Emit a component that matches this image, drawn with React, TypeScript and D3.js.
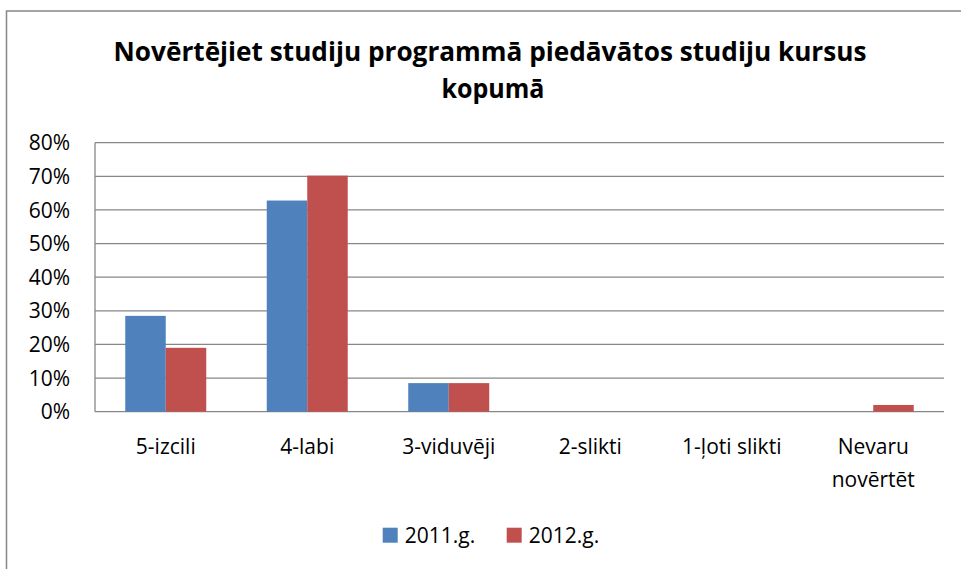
import React from "react";
import * as d3 from "d3";

const categories: string[][] = [
  ["5-izcili"],
  ["4-labi"],
  ["3-viduvēji"],
  ["2-slikti"],
  ["1-ļoti slikti"],
  ["Nevaru", "novērtēt"],
];
const seriesNames = ["2011.g.", "2012.g."];
const values2011 = [28.5, 62.8, 8.5, 0, 0, 0];
const values2012 = [19.0, 70.2, 8.5, 0, 0, 2.0];
const yTicks = [0, 10, 20, 30, 40, 50, 60, 70, 80];
const titleLines = ["Novērtējiet studiju programmā piedāvātos studiju kursus", "kopumā"];

const colors = ["#4F81BD", "#C0504D"];
const W = 961;
const H = 569;
const plot = { left: 95, right: 944, top: 142.7, bottom: 411.7 };
const font = "'Open Sans', 'Liberation Sans', Arial, sans-serif";

export default function App() {
  const keys = categories.map((c) => c.join(" "));
  const x0 = d3.scaleBand<string>().domain(keys).range([plot.left, plot.right]).padding(0);
  const x1 = d3
    .scaleBand<string>()
    .domain(seriesNames)
    .range([0, x0.bandwidth()])
    .paddingInner(0)
    .paddingOuter(0.747);
  const y = d3.scaleLinear().domain([0, 80]).range([plot.bottom, plot.top]);
  const series = [values2011, values2012];

  return (
    <svg
      width={W}
      height={H}
      style={{ position: "absolute", left: 0, top: 0, display: "block", background: "#fff" }}
      fontFamily={font}
    >
      <rect x={0} y={0} width={W} height={H} fill="#fff" />
      <rect x={6.5} y={11} width={W + 20} height={H + 20} fill="none" stroke="#878787" strokeWidth={1.5} />

      {/* Title */}
      <text x={490} y={61} textAnchor="middle" fontWeight="bold" fontSize={27} fill="#000"
        textLength={753} lengthAdjust="spacingAndGlyphs">
        {titleLines[0]}
      </text>
      <text x={493} y={97.5} textAnchor="middle" fontWeight="bold" fontSize={27} fill="#000"
        textLength={103} lengthAdjust="spacingAndGlyphs">
        {titleLines[1]}
      </text>

      {/* Gridlines */}
      {yTicks.map((t) => (
        <line key={t} x1={plot.left} x2={plot.right} y1={y(t)} y2={y(t)} stroke="#878787" strokeWidth={1.3} />
      ))}
      <line x1={plot.left} x2={plot.left} y1={plot.top} y2={plot.bottom} stroke="#878787" strokeWidth={1.3} />

      {/* Y labels */}
      {yTicks.map((t) => (
        <text key={t} x={70} y={y(t)} dy="0.36em" textAnchor="end" fontSize={21} fill="#000">
          {d3.format(".0%")(t / 100)}
        </text>
      ))}

      {/* Bars */}
      {series.map((vals, si) =>
        vals.map((v, ci) =>
          v > 0 ? (
            <rect
              key={`${si}-${ci}`}
              x={(x0(keys[ci]) as number) + (x1(seriesNames[si]) as number)}
              y={y(v)}
              width={x1.bandwidth()}
              height={plot.bottom - y(v)}
              fill={colors[si]}
            />
          ) : null
        )
      )}

      {/* Category labels */}
      {categories.map((lines, ci) => (
        <text key={ci} x={(x0(keys[ci]) as number) + x0.bandwidth() / 2} y={454} textAnchor="middle" fontSize={21} fill="#000">
          {lines.map((l, li) => (
            <tspan key={li} x={(x0(keys[ci]) as number) + x0.bandwidth() / 2} dy={li === 0 ? 0 : 32.7}>
              {l}
            </tspan>
          ))}
        </text>
      ))}

      {/* Legend */}
      {seriesNames.map((s, i) => (
        <g key={s} transform={`translate(${382.7 + i * 124},0)`}>
          <rect x={0} y={527.7} width={15} height={15} fill={colors[i]} />
          <text x={22} y={542.7} fontSize={21} fill="#000">{s}</text>
        </g>
      ))}
    </svg>
  );
}
